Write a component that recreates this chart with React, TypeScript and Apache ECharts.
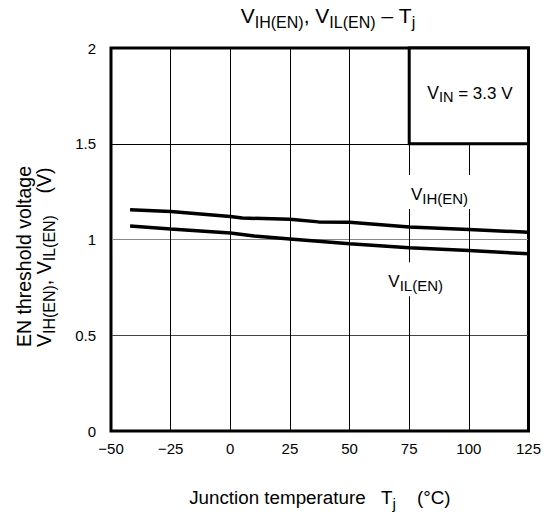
import React, { useEffect, useRef } from "react";
import * as echarts from "echarts";

const tempVIH = [-42, -25, 0, 5, 25, 37, 50, 75, 100, 125];
const valVIH = [1.155, 1.146, 1.12, 1.112, 1.106, 1.092, 1.09, 1.065, 1.052, 1.038];
const tempVIL = [-42, -25, 0, 10, 25, 50, 75, 100, 125];
const valVIL = [1.07, 1.055, 1.034, 1.018, 1.003, 0.978, 0.957, 0.942, 0.925];
const xTicks = { min: -50, max: 125, interval: 25 };
const yTicks = { min: 0, max: 2, interval: 0.5 };
const boxRange = [[75, 1.5], [125, 2]];
const vihLabelAt = [87.7, 1.248];
const vilLabelAt = [77.7, 0.792];

const FONT = "'Liberation Sans', Arial, sans-serif";

export default function App() {
  const ref = useRef<HTMLDivElement>(null);
  useEffect(() => {
    if (!ref.current) return;
    const chart = echarts.init(ref.current, undefined, { renderer: "svg" });
    const subRich = (big: number, small: number, rest: number, lh: number, drop: number) => ({
      v: { fontSize: big, fontFamily: FONT, color: "#000", lineHeight: lh, verticalAlign: "bottom" },
      s: { fontSize: small, fontFamily: FONT, color: "#000", lineHeight: lh, verticalAlign: "bottom", padding: [0, 0, -drop, 0] },
      t: { fontSize: rest, fontFamily: FONT, color: "#000", lineHeight: lh, verticalAlign: "bottom" },
    });
    chart.setOption({
      animation: false,
      backgroundColor: "#fff",
      title: {
        text: "{v|V}{s|IH(EN)}{v|, V}{s|IL(EN)}{v| – T}{s|j}",
        left: 323,
        top: 0,
        padding: [2, 5, 5, 5],
        textAlign: "center",
        textStyle: { fontWeight: "normal", rich: subRich(21, 16, 21, 24, 4) },
      },
      grid: {
        left: 111,
        right: 13,
        top: 48,
        bottom: 83,
        show: true,
        borderColor: "#000",
        borderWidth: 3,
        containLabel: false,
      },
      xAxis: {
        type: "value",
        min: xTicks.min,
        max: xTicks.max,
        interval: xTicks.interval,
        axisLine: { show: false },
        axisTick: { show: false },
        axisLabel: {
          color: "#000",
          fontSize: 15,
          fontFamily: FONT,
          margin: 10,
          formatter: (v: number) => String(v).replace("-", "\u2212"),
        },
        splitLine: { show: true, lineStyle: { color: "#000", width: 1 } },
        name: "{n|Junction temperature   T}{s|j}{n|    (°C)}",
        nameLocation: "middle",
        nameGap: 52,
        nameTextStyle: {
          rich: {
            n: { fontSize: 18.8, fontFamily: FONT, color: "#000", lineHeight: 24, verticalAlign: "bottom" },
            s: { fontSize: 15.5, fontFamily: FONT, color: "#000", lineHeight: 24, verticalAlign: "bottom", padding: [0, 0, -4, 0] },
          },
        },
      },
      yAxis: {
        type: "value",
        min: yTicks.min,
        max: yTicks.max,
        interval: yTicks.interval,
        axisLine: { show: false },
        axisTick: { show: false },
        axisLabel: { color: "#000", fontSize: 15, fontFamily: FONT, margin: 15 },
        splitLine: { show: true, lineStyle: { color: ["#000", "#444", "#888", "#000", "#000"], width: 1 } },
      },
      graphic: [
        {
          type: "text",
          x: 34,
          y: 347,
          rotation: Math.PI / 2,
          style: {
            text: "{n|EN threshold voltage}\n{n|V}{s|IH(EN)}{n|, V}{s|IL(EN)}{n|    (V)}",
            align: "left",
            verticalAlign: "middle",
            rich: {
              n: { fontSize: 19.5, fontFamily: FONT, fill: "#000", lineHeight: 20, verticalAlign: "bottom" },
              s: { fontSize: 16, fontFamily: FONT, fill: "#000", lineHeight: 20, verticalAlign: "bottom", padding: [0, 0, -3, 0] },
            },
          },
        },
      ],
      series: [
        {
          name: "VIH(EN)",
          type: "line",
          symbol: "none",
          lineStyle: { color: "#000", width: 3.5 },
          data: tempVIH.map((t, i) => [t, valVIH[i]]),
          z: 3,
          markArea: {
            silent: true,
            itemStyle: { color: "#fff", borderColor: "#000", borderWidth: 3 },
            label: {
              show: true,
              position: "inside",
              offset: [1, -5],
              formatter: "{v|V}{s|IN}{t| = 3.3 V}",
              rich: subRich(17.5, 14.5, 17, 22, 3),
            },
            data: [[{ coord: boxRange[0] }, { coord: boxRange[1] }]],
          },
          markPoint: {
            silent: true,
            symbol: "rect",
            symbolSize: 1,
            itemStyle: { color: "transparent" },
            label: {
              show: true,
              position: "inside",
              formatter: "{v|V}{s|IH(EN)}",
              backgroundColor: "#fff",
              padding: [6, 3, 6, 3],
              rich: subRich(17, 15, 17, 22, 3),
            },
            data: [{ coord: vihLabelAt }],
          },
        },
        {
          name: "VIL(EN)",
          type: "line",
          symbol: "none",
          lineStyle: { color: "#000", width: 3.5 },
          data: tempVIL.map((t, i) => [t, valVIL[i]]),
          z: 3,
          markPoint: {
            silent: true,
            symbol: "rect",
            symbolSize: 1,
            itemStyle: { color: "transparent" },
            label: {
              show: true,
              position: "inside",
              formatter: "{v|V}{s|IL(EN)}",
              backgroundColor: "#fff",
              padding: [6, 3, 6, 3],
              rich: subRich(17, 15, 17, 22, 3),
            },
            data: [{ coord: vilLabelAt }],
          },
        },
      ],
    });
    return () => chart.dispose();
  }, []);
  return <div ref={ref} style={{ position: "absolute", left: 0, top: 0, width: 544, height: 516 }} />;
}
